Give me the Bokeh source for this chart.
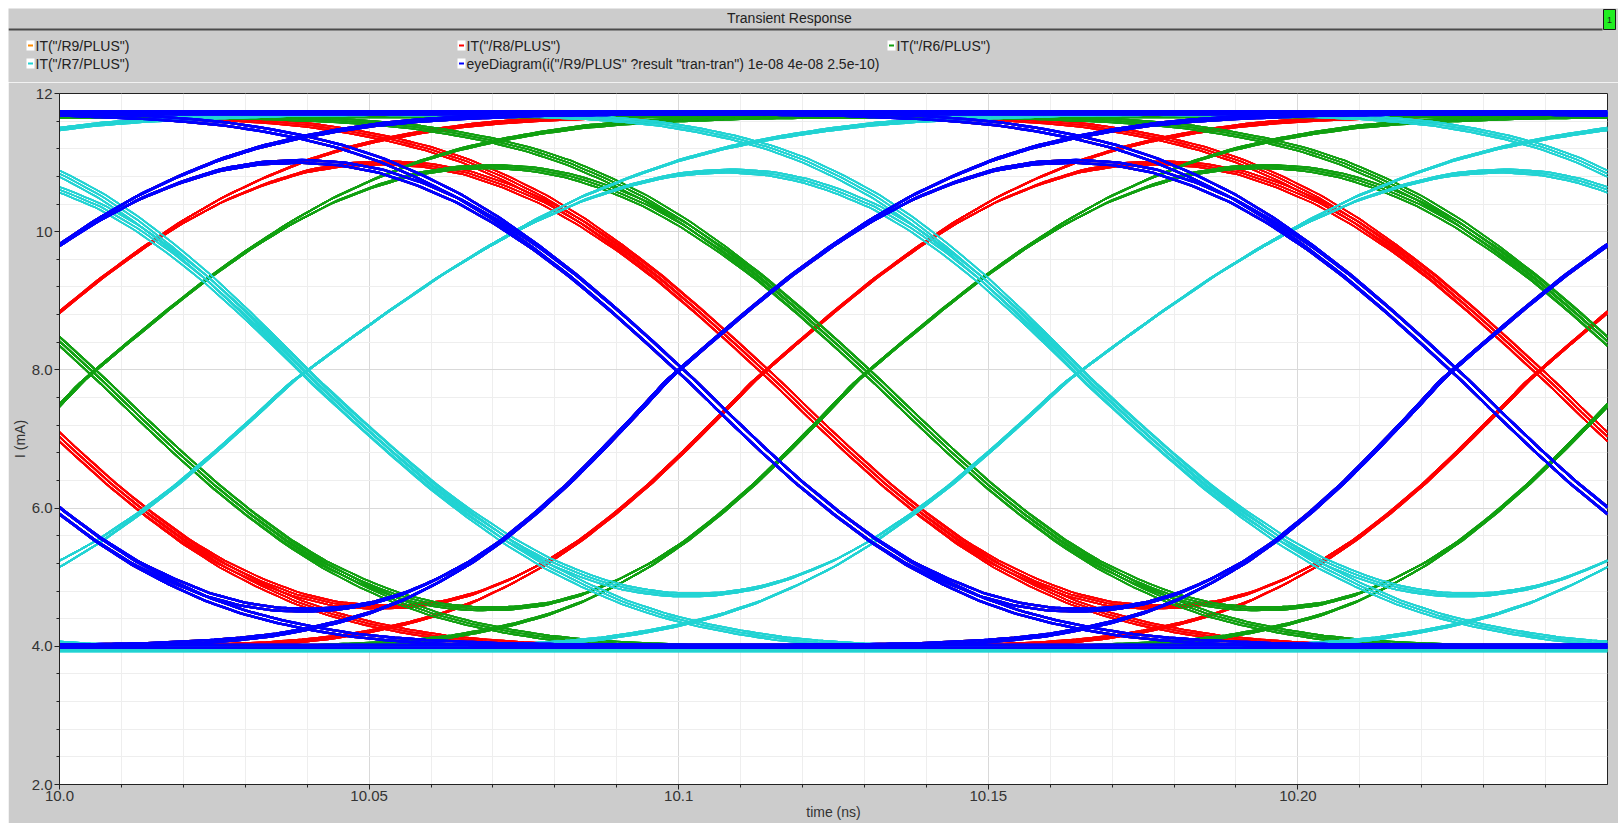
import numpy as np
from bokeh.plotting import figure
from bokeh.layouts import column, row
from bokeh.models import Range1d, FixedTicker, Spacer
from bokeh.core.properties import value
from bokeh.embed import file_html
from bokeh.resources import INLINE

# ------------------------------------------------------------------ data
SIGNAL_NAMES = [
    'IT("/R9/PLUS")',
    'IT("/R8/PLUS")',
    'IT("/R6/PLUS")',
    'IT("/R7/PLUS")',
    'eyeDiagram(i("/R9/PLUS" ?result "tran-tran") 1e-08 4e-08 2.5e-10)',
]
# first data edge (ns) that still influences the 10.0-10.25 ns window
FIRST_EDGE_NS = [9.9751, 9.9889, 9.8804, 9.9145, 9.9751]
LOW_MA = [4.00, 3.97, 3.97, 3.95, 4.00]
HIGH_MA = [11.72, 11.70, 11.68, 11.72, 11.72]
# edge speed read per trace: (rise start, rise end, fall start, fall end)
RISE_LO = [0.85, 0.90, 0.88, 1.00, 0.85]
RISE_HI = [1.05, 1.05, 1.08, 1.25, 1.05]
FALL_LO = [1.00, 1.00, 1.00, 0.92, 1.00]
FALL_HI = [0.94, 0.95, 0.95, 1.00, 0.94]
UNIT_INTERVAL_NS = 0.125
EDGE_SKEW_NS = 0.0018

# normalised edge (offset from crossing, ns)
EDGE_OFFSET_NS = [-0.125, -0.11875, -0.1125, -0.10625, -0.1, -0.09375, -0.0875,
                  -0.08125, -0.075, -0.06875, -0.0625, -0.05625, -0.05, -0.04375,
                  -0.0375, -0.03125, -0.025, -0.01875, -0.0125, -0.00625, 0.0]
EDGE_FRACTION = [0.000, 0.001, 0.001, 0.002, 0.003, 0.006, 0.009, 0.014, 0.021,
                 0.032, 0.046, 0.064, 0.088, 0.119, 0.155, 0.199, 0.250, 0.306,
                 0.368, 0.433, 0.500]

BIT_PATTERNS = [
    "00000", "00001", "00010", "00011", "00100", "00101", "00110", "00111",
    "01000", "01001", "01010", "01011", "01100", "01101", "01110", "01111",
    "10000", "10001", "10010", "10011", "10100", "10101", "10110", "10111",
    "11000", "11001", "11010", "11011", "11100", "11101", "11110", "11111",
]

X_TICKS = [10.0, 10.05, 10.1, 10.15, 10.2]
X_TICK_LABELS = ["10.0", "10.05", "10.1", "10.15", "10.20"]
X_MINOR = [10.01, 10.02, 10.03, 10.04, 10.06, 10.07, 10.08, 10.09, 10.11, 10.12,
           10.13, 10.14, 10.16, 10.17, 10.18, 10.19, 10.21, 10.22, 10.23, 10.24]
Y_TICKS = [2, 4, 6, 8, 10, 12]
Y_TICK_LABELS = ["2.0", "4.0", "6.0", "8.0", "10", "12"]
Y_MINOR = [2.4, 2.8, 3.2, 3.6, 4.4, 4.8, 5.2, 5.6, 6.4, 6.8, 7.2, 7.6,
           8.4, 8.8, 9.2, 9.6, 10.4, 10.8, 11.2, 11.6]

TITLE = "Transient Response"
X_LABEL = "time (ns)"
Y_LABEL = "I (mA)"

# ------------------------------------------------------------------ style
COLORS = ["#ff8c00", "#ff0000", "#11a011", "#22d3d3", "#0000ff"]
WIDTHS = [2.2, 1.6, 1.6, 1.6, 2.4]
SPREAD = {
    "thin": [(-0.0005, -0.025), (0.0, 0.0), (0.0005, 0.025)],
    "bold": [(-0.0004, -0.02), (0.0004, 0.02)],
}
BG = "#cccccc"
TXT = "#222222"
SANS = "Liberation Sans"

W = 1610
HEAD_H = 74
MAIN_H = 741
FL, FR, FT, FB = 49, 11, 11, 39

# legend placement (page px): swatch left, row centre
LEG_X = [26, 457, 887, 26, 457]
LEG_Y = [45, 45, 45, 63, 63]


def no_align(fig):
    try:
        fig.frame_align = False
    except AttributeError:
        pass


# ------------------------------------------------------------------ curves
off = np.array(EDGE_OFFSET_NS)
frac = np.array(EDGE_FRACTION)
off_full = np.concatenate([off, -off[-2::-1]])
frac_full = np.concatenate([frac, 1.0 - frac[-2::-1]])


def edge(tau, lo, hi):
    s = np.where(tau < 0, lo, hi)
    return np.interp(tau / s, off_full, frac_full, left=0.0, right=1.0)


t = np.linspace(10.0, 10.25, 301)

p = figure(width=W, height=MAIN_H, output_backend="svg", toolbar_location=None,
           title=None,
           x_range=Range1d(10.0, 10.25), y_range=Range1d(2.0, 12.0),
           min_border_left=FL, min_border_right=FR, min_border_top=FT,
           min_border_bottom=FB)
no_align(p)
p.background_fill_color = "white"
p.border_fill_color = BG
p.outline_line_color = "#222222"
p.outline_line_width = 1

for i, name in enumerate(SIGNAL_NAMES):
    spread = SPREAD["bold"] if WIDTHS[i] > 2 else SPREAD["thin"]
    xs, ys = [], []
    for dt, dI in spread:
        for pat in BIT_PATTERNS:
            bits = [int(c) for c in pat]
            v = np.full_like(t, float(bits[0]))
            for k in range(4):
                d = bits[k + 1] - bits[k]
                if d == 0:
                    continue
                c = FIRST_EDGE_NS[i] + k * UNIT_INTERVAL_NS + dt
                if d > 0:
                    v = v + edge(t - (c - EDGE_SKEW_NS), RISE_LO[i], RISE_HI[i])
                else:
                    v = v - edge(t - (c + EDGE_SKEW_NS), FALL_LO[i], FALL_HI[i])
            xs.append(t)
            ys.append(LOW_MA[i] + (HIGH_MA[i] - LOW_MA[i]) * v + dI)
    p.multi_line(xs, ys, line_color=COLORS[i], line_width=WIDTHS[i])

# ------------------------------------------------------------------ axes
for a, ticks, labels, minor in ((p.xaxis[0], X_TICKS, X_TICK_LABELS, X_MINOR),
                                (p.yaxis[0], Y_TICKS, Y_TICK_LABELS, Y_MINOR)):
    a.ticker = FixedTicker(ticks=ticks, minor_ticks=minor)
    a.major_label_overrides = {tk: lb for tk, lb in zip(ticks, labels)}
    a.major_tick_out = 5
    a.major_tick_in = 0
    a.minor_tick_out = 3
    a.minor_tick_in = 0
    a.axis_line_color = "#222222"
    a.major_tick_line_color = "#222222"
    a.minor_tick_line_color = "#222222"
    a.major_label_text_font = SANS
    a.major_label_text_font_size = "15px"
    a.major_label_text_color = "#333333"
    a.axis_label_text_font = SANS
    a.axis_label_text_font_size = "14px"
    a.axis_label_text_font_style = "normal"
    a.axis_label_text_color = "#333333"

p.xaxis[0].major_label_standoff = 1
p.xaxis[0].axis_label_standoff = 0
p.yaxis[0].major_label_standoff = 2
p.yaxis[0].axis_label_standoff = 1
p.xaxis.axis_label = X_LABEL
p.yaxis.axis_label = Y_LABEL

for g in (p.xgrid[0], p.ygrid[0]):
    g.grid_line_color = "#d9d9d9"
    g.minor_grid_line_color = "#eeeeee"

# ------------------------------------------------------------------ header
h = figure(width=W, height=HEAD_H, output_backend="svg", toolbar_location=None,
           title=None, x_axis_type=None, y_axis_type=None,
           x_range=Range1d(8, 8 + W), y_range=Range1d(8 + HEAD_H, 8),
           min_border=0, min_border_left=0, min_border_right=0,
           min_border_top=0, min_border_bottom=0)
no_align(h)
h.background_fill_color = BG
h.border_fill_color = BG
h.outline_line_color = None
h.xgrid.visible = False
h.ygrid.visible = False

h.text(x=[789], y=[17], text=[TITLE], text_align="center",
       text_baseline="middle", text_font=value(SANS),
       text_font_size="14px", text_color=TXT)
h.quad(left=[8], right=[1602], top=[28], bottom=[30],
       fill_color="#4a4a4a", line_color=None)
h.quad(left=[1603], right=[1615], top=[9], bottom=[29],
       fill_color="#22ee22", line_color="#1a1a1a", line_width=1)
h.text(x=[1609], y=[19], text=["1"], text_align="center",
       text_baseline="middle", text_font=value(SANS),
       text_font_size="9px", text_color=TXT)

h.quad(left=LEG_X, right=[x + 8 for x in LEG_X],
       top=[y - 5 for y in LEG_Y], bottom=[y + 5 for y in LEG_Y],
       fill_color="white", line_color=None)
h.quad(left=[x + 1.5 for x in LEG_X], right=[x + 6.5 for x in LEG_X],
       top=[y - 1 for y in LEG_Y], bottom=[y + 1 for y in LEG_Y],
       fill_color=COLORS, line_color=None)
h.text(x=[x + 9 for x in LEG_X], y=LEG_Y, text=SIGNAL_NAMES,
       text_align="left", text_baseline="middle", text_font=value(SANS),
       text_font_size="14px", text_color=TXT)

layout = column(Spacer(width=8 + W, height=8),
                row(Spacer(width=8, height=HEAD_H + MAIN_H),
                    column(h, p, spacing=0), spacing=0),
                spacing=0)

open("out.html", "w").write(file_html(layout, INLINE))
